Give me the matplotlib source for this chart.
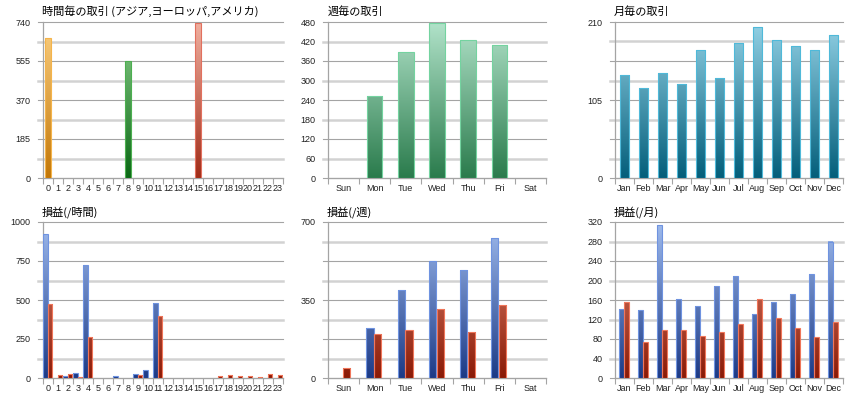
import numpy as np
import matplotlib
matplotlib.use("Agg")
import matplotlib.pyplot as plt
from matplotlib.colors import LinearSegmentedColormap

plt.rcParams['font.family'] = ['Noto Sans CJK JP', 'DejaVu Sans']

# ---- data ----
hours = [str(h) for h in range(24)]
days = ['Sun', 'Mon', 'Tue', 'Wed', 'Thu', 'Fri', 'Sat']
months = ['Jan', 'Feb', 'Mar', 'Apr', 'May', 'Jun', 'Jul', 'Aug', 'Sep', 'Oct', 'Nov', 'Dec']

# hourly trades: Asia / Europe / America sessions
hourly_asia = {0: 662}
hourly_europe = {8: 555}
hourly_america = {15: 734}

weekly_trades = [0, 251, 389, 476, 424, 408, 0]
monthly_trades = [139, 121, 141, 127, 172, 135, 182, 203, 186, 178, 172, 193]

pl_hour_blue = [925, 0, 13, 32, 726, 0, 0, 11, 0, 24, 51, 482,
                0, 0, 0, 0, 0, 0, 0, 0, 0, 0, 0, 0]
pl_hour_red = [473, 19, 26, 6, 263, 0, 0, 0, 0, 19, 0, 398,
               0, 0, 0, 0, 0, 13, 19, 13, 11, 6, 26, 19]

pl_week_blue = [0, 223, 396, 523, 483, 630, 0]
pl_week_red = [43, 198, 216, 310, 205, 327, 0]

pl_month_blue = [142, 139, 314, 162, 148, 189, 210, 131, 156, 172, 213, 280]
pl_month_red = [156, 73, 99, 98, 86, 94, 110, 163, 123, 102, 84, 114]

# ---- colours (top, bottom, edge) ----
ORANGE = ('#fbd083', '#c27606', '#f5b44a')
GREEN = ('#8fd18f', '#0a6814', '#4caf50')
RED = ('#f0b0a0', '#a02c18', '#e2705e')
MINT = ('#b2e3ca', '#2a7b4c', '#74d3a0')
TEAL = ('#94d2e6', '#035e7a', '#4fb9d9')
BLUE = ('#a0bcee', '#1c3a86', '#6f93e0')
BRICK = ('#e8907a', '#8a1a06', '#f0765a')

DARK_LINE = '#a4a4a4'
LIGHT_LINE = '#d2d2d2'
TICK_FONT = ['Liberation Sans', 'DejaVu Sans']

W, H = 860, 400
fig = plt.figure(figsize=(W / 100, H / 100), dpi=100)


def make_axes(left, top, right, bottom):
    return fig.add_axes([left / W, 1 - bottom / H, (right - left) / W, (bottom - top) / H])


def gradient_bars(ax, bars, colors, ymax):
    top, bottom, edge = colors
    cmap = LinearSegmentedColormap.from_list('g', [bottom, top])
    grad = np.linspace(0, 1, 256).reshape(-1, 1)
    for b in bars:
        if b.get_height() <= 0:
            continue
        b.set_facecolor('none')
        b.set_edgecolor(edge)
        b.set_linewidth(0.8)
        b.set_zorder(4)
        x0 = b.get_x()
        x1 = x0 + b.get_width()
        im = ax.imshow(grad, cmap=cmap, origin='lower', aspect='auto',
                       extent=(x0, x1, 0, ymax), zorder=3, interpolation='bilinear')
        im.set_clip_path(b)


def style_axes(ax, labels, ymax, nlines, ylabels, title):
    n = len(labels)
    ax.set_xlim(-0.5, n - 0.5)
    ax.set_ylim(0, ymax)
    for s in ['top', 'right']:
        ax.spines[s].set_visible(False)
    ax.spines['left'].set_color(DARK_LINE)
    ax.spines['bottom'].set_color(DARK_LINE)
    ax.spines['left'].set_linewidth(0.9)
    ax.spines['bottom'].set_linewidth(0.9)

    # horizontal lines, alternating dark/light, reaching a bit left of the axis
    width_px = ax.get_position().width * W
    xstart = -5 / width_px
    step = ymax / nlines
    for i in range(0, nlines + 1):
        y = i * step
        if i % 2 == 0:
            ax.plot([xstart, 1], [y, y], color=DARK_LINE, lw=0.8,
                    transform=ax.get_yaxis_transform(), clip_on=False, zorder=1)
        else:
            ax.plot([xstart, 1], [y, y], color=LIGHT_LINE, lw=1.8,
                    transform=ax.get_yaxis_transform(), clip_on=False, zorder=1)

    ax.set_yticks(ylabels)
    ax.set_yticklabels([f'{v:g}' for v in ylabels], family=TICK_FONT)
    ax.tick_params(axis='y', length=0, pad=9, labelsize=6.5, labelcolor='#222222')

    ax.set_xticks(range(n))
    ax.set_xticklabels(labels, family=TICK_FONT)
    ax.set_xticks(np.arange(-0.5, n, 1.0), minor=True)
    ax.tick_params(axis='x', which='major', length=0, pad=4, labelsize=6.5, labelcolor='#222222')
    ax.tick_params(axis='x', which='minor', length=4, width=0.8, color=DARK_LINE)
    ax.set_title(title, loc='left', fontsize=8, pad=5, x=-0.004)


# ---- top row ----
ax1 = make_axes(43, 22, 283, 178)
for data, col in [(hourly_asia, ORANGE), (hourly_europe, GREEN), (hourly_america, RED)]:
    xs = list(data.keys())
    bars = ax1.bar(xs, list(data.values()), width=0.52)
    gradient_bars(ax1, bars, col, 740)
style_axes(ax1, hours, 740, 8, [0, 185, 370, 555, 740], '時間毎の取引 (アジア,ヨーロッパ,アメリカ)')

ax2 = make_axes(328, 22, 546, 178)
bars = ax2.bar(range(len(days)), weekly_trades, width=0.5)
gradient_bars(ax2, bars, MINT, 480)
style_axes(ax2, days, 480, 8, list(range(0, 481, 60)), '週毎の取引')

ax3 = make_axes(615, 22, 843, 178)
bars = ax3.bar(range(len(months)), monthly_trades, width=0.5)
gradient_bars(ax3, bars, TEAL, 210)
style_axes(ax3, months, 210, 8, [0, 105, 210], '月毎の取引')

# ---- bottom row ----
ax4 = make_axes(43, 222, 283, 378)
x = np.arange(24)
b1 = ax4.bar(x - 0.27, pl_hour_blue, width=0.44)
b2 = ax4.bar(x + 0.19, pl_hour_red, width=0.44)
gradient_bars(ax4, b1, BLUE, 1000)
gradient_bars(ax4, b2, BRICK, 1000)
style_axes(ax4, hours, 1000, 8, [0, 250, 500, 750, 1000], '損益(/時間)')

ax5 = make_axes(328, 222, 546, 378)
x = np.arange(7)
b1 = ax5.bar(x - 0.15, pl_week_blue, width=0.23)
b2 = ax5.bar(x + 0.1, pl_week_red, width=0.23)
gradient_bars(ax5, b1, BLUE, 700)
gradient_bars(ax5, b2, BRICK, 700)
style_axes(ax5, days, 700, 8, [0, 350, 700], '損益(/週)')

ax6 = make_axes(615, 222, 843, 378)
x = np.arange(12)
b1 = ax6.bar(x - 0.16, pl_month_blue, width=0.23)
b2 = ax6.bar(x + 0.1, pl_month_red, width=0.23)
gradient_bars(ax6, b1, BLUE, 320)
gradient_bars(ax6, b2, BRICK, 320)
style_axes(ax6, months, 320, 8, list(range(0, 321, 40)), '損益(/月)')

fig.savefig('out.png', dpi=100)
